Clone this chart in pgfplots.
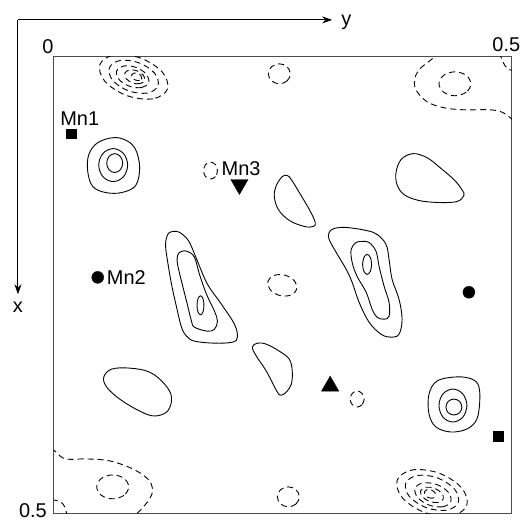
\documentclass[border=0pt]{standalone}
\usepackage{fontspec}
\setmainfont{Liberation Sans}
\usepackage{pgfplots}
\pgfplotsset{compat=1.18}
\usetikzlibrary{arrows.meta}
\tikzset{
 sol/.style={black, line width=0.9pt, smooth cycle, tension=0.6},
 dsh/.style={black, line width=0.9pt, smooth cycle, tension=0.6, dash pattern=on 6pt off 4pt},
 dshopen/.style={black, line width=0.9pt, smooth, tension=0.6, dash pattern=on 6pt off 4pt},
 lbl/.style={font=\fontsize{20}{23}\selectfont, inner sep=0pt},
}
\begin{document}
\begin{tikzpicture}
\begin{axis}[
 scale only axis, width=459pt, height=458pt,
 xmin=0, xmax=0.5, ymin=0, ymax=0.5, y dir=reverse,
 xtick=\empty, ytick=\empty,
 axis line style={black!70, line width=1pt},
 clip mode=individual,
]
% --- top-left negative cluster
\addplot[dsh] coordinates {(0.1240,0.0353) (0.1080,0.0459) (0.0797,0.0424) (0.0558,0.0269) (0.0503,0.0084) (0.0663,-0.0022) (0.0946,0.0013) (0.1185,0.0168)};
\addplot[dsh] coordinates {(0.1137,0.0316) (0.1021,0.0396) (0.0816,0.0372) (0.0644,0.0259) (0.0606,0.0121) (0.0722,0.0040) (0.0927,0.0064) (0.1099,0.0178)};
\addplot[dsh] coordinates {(0.1035,0.0282) (0.0957,0.0336) (0.0824,0.0321) (0.0711,0.0247) (0.0686,0.0155) (0.0764,0.0100) (0.0898,0.0116) (0.1010,0.0190)};
\addplot[dsh] coordinates {(0.0990,0.0258) (0.0941,0.0293) (0.0858,0.0285) (0.0789,0.0238) (0.0775,0.0179) (0.0824,0.0144) (0.0906,0.0152) (0.0976,0.0199)};
\addplot[dsh] coordinates {(0.0961,0.0239) (0.0936,0.0258) (0.0891,0.0254) (0.0855,0.0229) (0.0847,0.0198) (0.0873,0.0179) (0.0917,0.0182) (0.0953,0.0207)};
% --- bottom negative cluster
\addplot[dsh] coordinates {(0.4508,0.4909) (0.4341,0.5022) (0.4050,0.4986) (0.3805,0.4825) (0.3749,0.4632) (0.3916,0.4520) (0.4207,0.4556) (0.4452,0.4716)};
\addplot[dsh] coordinates {(0.4415,0.4876) (0.4289,0.4961) (0.4069,0.4934) (0.3883,0.4812) (0.3842,0.4666) (0.3968,0.4581) (0.4188,0.4607) (0.4374,0.4729)};
\addplot[dsh] coordinates {(0.4334,0.4864) (0.4247,0.4923) (0.4098,0.4905) (0.3973,0.4822) (0.3944,0.4722) (0.4031,0.4663) (0.4181,0.4680) (0.4306,0.4763)};
\addplot[dsh] coordinates {(0.4252,0.4837) (0.4197,0.4876) (0.4102,0.4865) (0.4023,0.4812) (0.4005,0.4748) (0.4060,0.4710) (0.4155,0.4721) (0.4234,0.4773)};
\addplot[dsh] coordinates {(0.4168,0.4805) (0.4139,0.4828) (0.4091,0.4823) (0.4052,0.4795) (0.4046,0.4759) (0.4074,0.4736) (0.4122,0.4740) (0.4161,0.4769)};
% --- Mn1 positive peak
\addplot[sol] coordinates {(0.0654,0.0884) (0.0795,0.0917) (0.0893,0.1015) (0.0937,0.1212) (0.0893,0.1408) (0.0741,0.1485) (0.0566,0.1485) (0.0425,0.1419) (0.0370,0.1255) (0.0381,0.1070) (0.0479,0.0939)};
\addplot[sol] coordinates {(0.0806,0.1184) (0.0760,0.1312) (0.0648,0.1365) (0.0536,0.1312) (0.0490,0.1184) (0.0536,0.1057) (0.0648,0.1004) (0.0760,0.1057)};
\addplot[sol] coordinates {(0.0752,0.1163) (0.0726,0.1236) (0.0664,0.1266) (0.0603,0.1236) (0.0577,0.1163) (0.0603,0.1090) (0.0664,0.1059) (0.0726,0.1090)};
% --- lower-right positive peak
\addplot[sol] coordinates {(0.4368,0.3504) (0.4531,0.3515) (0.4630,0.3581) (0.4651,0.3745) (0.4619,0.3963) (0.4510,0.4072) (0.4335,0.4105) (0.4172,0.4050) (0.4096,0.3908) (0.4096,0.3690) (0.4183,0.3548)};
\addplot[sol] coordinates {(0.4510,0.3815) (0.4465,0.3943) (0.4357,0.3996) (0.4249,0.3943) (0.4205,0.3815) (0.4249,0.3688) (0.4357,0.3635) (0.4465,0.3688)};
\addplot[sol] coordinates {(0.4455,0.3832) (0.4430,0.3894) (0.4368,0.3919) (0.4306,0.3894) (0.4281,0.3832) (0.4306,0.3770) (0.4368,0.3745) (0.4430,0.3770)};
% --- centre-left elongated peak
\addplot[sol] coordinates {(0.1264,0.1921) (0.1340,0.1910) (0.1405,0.1943) (0.1481,0.2031) (0.1569,0.2238) (0.1678,0.2489) (0.1830,0.2707) (0.1972,0.2926) (0.2004,0.3068) (0.1950,0.3122) (0.1754,0.3133) (0.1536,0.3111) (0.1449,0.3057) (0.1394,0.2959) (0.1340,0.2740) (0.1285,0.2489) (0.1242,0.2238) (0.1220,0.2074) (0.1231,0.1976)};
\addplot[sol] coordinates {(0.1394,0.2129) (0.1460,0.2129) (0.1536,0.2194) (0.1590,0.2380) (0.1667,0.2598) (0.1754,0.2784) (0.1786,0.2893) (0.1754,0.2980) (0.1678,0.3002) (0.1536,0.2959) (0.1503,0.2893) (0.1449,0.2675) (0.1394,0.2456) (0.1351,0.2271) (0.1351,0.2172)};
\addplot[sol] coordinates {(0.1639,0.2718) (0.1628,0.2792) (0.1601,0.2822) (0.1574,0.2792) (0.1563,0.2718) (0.1574,0.2645) (0.1601,0.2615) (0.1628,0.2645)};
% --- centre-right elongated peak
\addplot[sol] coordinates {(0.3061,0.1878) (0.3192,0.1867) (0.3410,0.1900) (0.3529,0.1943) (0.3627,0.2052) (0.3660,0.2216) (0.3693,0.2434) (0.3769,0.2653) (0.3802,0.2871) (0.3769,0.3035) (0.3682,0.3068) (0.3573,0.3035) (0.3442,0.2904) (0.3333,0.2686) (0.3257,0.2467) (0.3192,0.2325) (0.3083,0.2140) (0.3006,0.1998) (0.3006,0.1921)};
\addplot[sol] coordinates {(0.3301,0.2031) (0.3366,0.2020) (0.3442,0.2031) (0.3518,0.2129) (0.3551,0.2293) (0.3606,0.2511) (0.3660,0.2686) (0.3660,0.2838) (0.3606,0.2871) (0.3529,0.2849) (0.3475,0.2762) (0.3410,0.2576) (0.3311,0.2402) (0.3257,0.2249) (0.3246,0.2107)};
\addplot[sol] coordinates {(0.3469,0.2271) (0.3455,0.2348) (0.3420,0.2380) (0.3386,0.2348) (0.3371,0.2271) (0.3386,0.2194) (0.3420,0.2162) (0.3455,0.2194)};
% --- single positive contours
\addplot[sol] coordinates {(0.2549,0.1299) (0.2494,0.1310) (0.2429,0.1408) (0.2407,0.1528) (0.2451,0.1670) (0.2571,0.1790) (0.2734,0.1856) (0.2832,0.1856) (0.2854,0.1812) (0.2789,0.1670) (0.2680,0.1485) (0.2593,0.1343)};
\addplot[sol] coordinates {(0.2168,0.3177) (0.2222,0.3133) (0.2320,0.3144) (0.2462,0.3221) (0.2571,0.3308) (0.2603,0.3439) (0.2593,0.3581) (0.2538,0.3668) (0.2484,0.3701) (0.2440,0.3668) (0.2320,0.3439) (0.2211,0.3275)};
\addplot[sol] coordinates {(0.3736,0.1266) (0.3791,0.1124) (0.3921,0.1059) (0.4074,0.1103) (0.4216,0.1212) (0.4368,0.1343) (0.4455,0.1452) (0.4477,0.1517) (0.4401,0.1583) (0.4205,0.1594) (0.3987,0.1572) (0.3823,0.1507) (0.3747,0.1397)};
\addplot[sol] coordinates {(0.0545,0.3504) (0.0632,0.3417) (0.0828,0.3406) (0.1046,0.3450) (0.1209,0.3581) (0.1285,0.3723) (0.1242,0.3876) (0.1100,0.3930) (0.0937,0.3876) (0.0719,0.3745) (0.0577,0.3614)};
% --- small negative contours
\addplot[dsh] coordinates {(0.1786,0.1245) (0.1764,0.1310) (0.1710,0.1337) (0.1656,0.1310) (0.1634,0.1245) (0.1656,0.1179) (0.1710,0.1152) (0.1764,0.1179)};
\addplot[dsh] coordinates {(0.2582,0.0186) (0.2547,0.0263) (0.2462,0.0295) (0.2377,0.0263) (0.2342,0.0186) (0.2377,0.0108) (0.2462,0.0076) (0.2547,0.0108)};
\addplot[dsh] coordinates {(0.2652,0.2543) (0.2585,0.2608) (0.2465,0.2611) (0.2362,0.2548) (0.2337,0.2457) (0.2404,0.2392) (0.2524,0.2389) (0.2627,0.2452)};
\addplot[dsh] coordinates {(0.3388,0.3745) (0.3365,0.3806) (0.3311,0.3832) (0.3258,0.3806) (0.3235,0.3745) (0.3258,0.3683) (0.3311,0.3657) (0.3365,0.3683)};
\addplot[dsh] coordinates {(0.2680,0.4814) (0.2645,0.4892) (0.2560,0.4924) (0.2475,0.4892) (0.2440,0.4814) (0.2475,0.4737) (0.2560,0.4705) (0.2645,0.4737)};
\addplot[dsh] coordinates {(0.4553,0.0295) (0.4502,0.0387) (0.4379,0.0426) (0.4256,0.0387) (0.4205,0.0295) (0.4256,0.0202) (0.4379,0.0164) (0.4502,0.0202)};
\addplot[dsh] coordinates {(0.0817,0.4705) (0.0766,0.4798) (0.0643,0.4836) (0.0519,0.4798) (0.0468,0.4705) (0.0519,0.4613) (0.0643,0.4574) (0.0766,0.4613)};
% --- open negative contours at the cell edges
\addplot[dshopen] coordinates {(0.4216,-0.0055) (0.4118,0.0033) (0.4009,0.0120) (0.3943,0.0229) (0.3954,0.0360) (0.4074,0.0491) (0.4259,0.0557) (0.4477,0.0579) (0.4749,0.0579) (0.4880,0.0600) (0.4956,0.0644) (0.5033,0.0710)};
\addplot[dshopen] coordinates {(0.4869,-0.0044) (0.4902,0.0055) (0.4956,0.0131) (0.5033,0.0153)};
\addplot[dshopen] coordinates {(-0.0022,0.4279) (0.0033,0.4334) (0.0131,0.4400) (0.0359,0.4400) (0.0610,0.4421) (0.0861,0.4509) (0.1024,0.4618) (0.1078,0.4727) (0.1046,0.4836) (0.0948,0.4956) (0.0882,0.5022)};
\addplot[dshopen] coordinates {(-0.0022,0.4847) (0.0044,0.4858) (0.0098,0.4891) (0.0131,0.4956) (0.0142,0.5022)};
% --- atom positions
\addplot[only marks, mark=square*, mark size=5pt, black] coordinates {(0.0185,0.0841) (0.4847,0.4148)};
\addplot[only marks, mark=*, mark size=6pt, black] coordinates {(0.0479,0.2413) (0.4532,0.2576)};
\addplot[only marks, mark=triangle*, mark size=10pt, black] coordinates {(0.3017,0.3603)};
\addplot[only marks, mark=triangle*, mark size=10pt, black, mark options={rotate=180}] coordinates {(0.2026,0.1397)};
% --- labels
\node[lbl] at (axis cs:0.0283,0.0677) {Mn1};
\node[lbl, anchor=west] at (axis cs:0.0577,0.2413) {Mn2};
\node[lbl, anchor=west] at (axis cs:0.1830,0.1223) {Mn3};
\node[lbl] at (axis cs:-0.0065,-0.0115) {0};
\node[lbl] at (axis cs:0.4940,-0.0131) {0.5};
\node[lbl] at (axis cs:-0.0229,0.4962) {0.5};
\draw[line width=1pt, -{Stealth[length=10pt, width=7pt]}] (axis cs:-0.0392,-0.0404) -- (axis cs:0.3039,-0.0404);
\draw[line width=1pt, -{Stealth[length=10pt, width=7pt]}] (axis cs:-0.0392,-0.0404) -- (axis cs:-0.0392,0.2598);
\node[lbl, anchor=base west] at (axis cs:0.3137,-0.0338) {y};
\node[lbl] at (axis cs:-0.0392,0.2735) {x};
\path (axis cs:-0.0588,-0.0622) (axis cs:0.5098,0.5090);
\end{axis}
\end{tikzpicture}
\end{document}
